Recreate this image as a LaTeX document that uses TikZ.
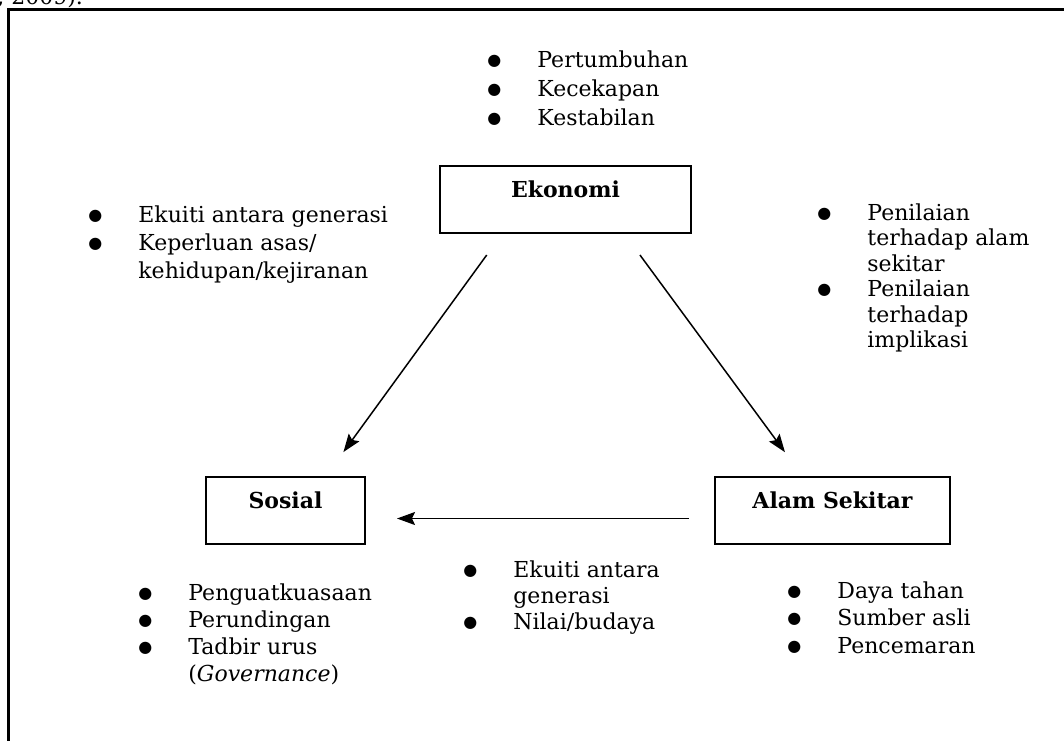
\documentclass[tikz,border=0pt]{standalone}
\usepackage{fontspec}
\setmainfont{DejaVu Serif}
\newfontfamily\bulfont{DejaVu Sans}
\usetikzlibrary{arrows.meta, positioning}
\tikzstyle{box}=[draw, line width=1pt, inner sep=0pt, text height=15.5pt, text depth=18pt, anchor=base, font=\fontsize{11}{14}\selectfont\bfseries]
\tikzstyle{arr}=[line width=0.75pt, -{Stealth[length=9pt,width=6.5pt,inset=1.5pt]}]
\tikzset{lst/.style={anchor=base west, inner sep=0pt, font=\fontsize{11}{#1}\selectfont}}
\newcommand{\bul}{\raisebox{1pt}{\bulfont\fontsize{8}{10}\selectfont ●}}
\newcommand{\bullist}[1]{\begin{tabular}[t]{@{}p{25pt}@{}l@{}}#1\end{tabular}}

\begin{document}
\begin{tikzpicture}[x=0.5pt, y=-0.5pt]
    \useasboundingbox (0,0) rectangle (1064,740);
    \node[anchor=base west, inner sep=0pt, font=\fontsize{11}{14}\selectfont] (cite) at (-3,4) {, 2009).};
    \draw[line width=1.5pt] (8.5,760) -- (8.5,9.5) -- (1080,9.5);

    \node[box, minimum width=125.5pt] (eko) at (565.5,197) {Ekonomi};
    \node[box, minimum width=79.5pt] (sos) at (285.5,508) {Sosial};
    \node[box, minimum width=117.5pt] (alam) at (832.5,508) {Alam Sekitar};

    \draw[arr, shorten <=13pt, shorten >=14.8pt] ([xshift=-31.75pt]eko.south) -- ([xshift=20.25pt]sos.north);
    \draw[arr, shorten <=13pt, shorten >=14.8pt] ([xshift=29.5pt]eko.south) -- ([xshift=-15pt]alam.north);
    \draw[arr, shorten <=12.5pt, shorten >=15.5pt] ([yshift=-4pt]alam.west) -- ([yshift=-4pt]sos.east);

    \node[lst=14.5] (ekoL) at (487,67) {\bullist{\bul & Pertumbuhan\\ \bul & Kecekapan\\ \bul & Kestabilan}};
    \node[lst=14] (sosU) at (88,222) {\bullist{\bul & Ekuiti antara generasi\\ \bul & Keperluan asas/\\ & kehidupan/kejiranan}};
    \node[lst=12.75] (alamU) at (817,220) {\bullist{\bul & Penilaian\\ & terhadap alam\\ & sekitar\\ \bul & Penilaian\\ & terhadap\\ & implikasi}};
    \node[lst=13.5] (sosL) at (138,600) {\bullist{\bul & Penguatkuasaan\\ \bul & Perundingan\\ \bul & Tadbir urus\\ & (\textit{Governance})}};
    \node[lst=13] (midL) at (463,577) {\bullist{\bul & Ekuiti antara\\ & generasi\\ \bul & Nilai/budaya}};
    \node[lst=13.75] (alamL) at (787,598) {\bullist{\bul & Daya tahan\\ \bul & Sumber asli\\ \bul & Pencemaran}};
\end{tikzpicture}
\end{document}
